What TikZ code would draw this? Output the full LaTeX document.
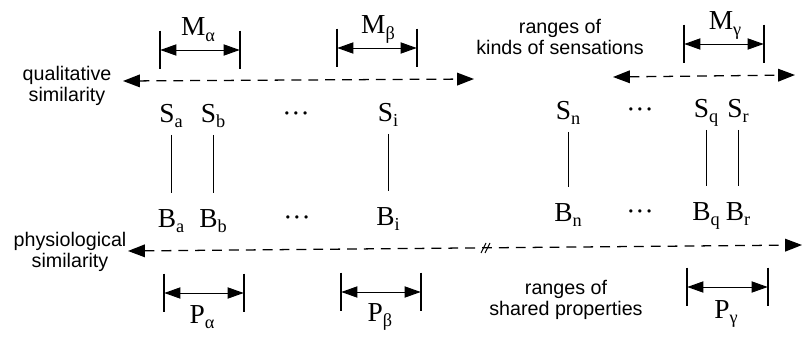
\documentclass[tikz,border=0pt]{standalone}
\usepackage{fontspec}
\setmainfont{Liberation Serif}
\newfontfamily\notefont{Liberation Sans}
\usetikzlibrary{arrows.meta}
\newcommand{\lsub}[1]{\raisebox{-0.45ex}{\fontsize{13}{14}\selectfont #1}}

\begin{document}
\begin{tikzpicture}[x=0.025cm, y=-0.025cm,
    sym/.style={inner sep=0pt, anchor=base, text depth=0pt, text height=13pt, font=\fontsize{19.5}{21}\selectfont},
    note/.style={align=center, font=\notefont\fontsize{14}{14.5}\selectfont},
    bar/.style={inner sep=0pt, minimum width=0pt, minimum height=27pt},
    barline/.style={line width=1.1pt},
    span/.style={{Triangle[length=11.5pt, width=8pt]}-{Triangle[length=11.5pt, width=8pt]}, line width=0.7pt},
    axis/.style={{Triangle[length=12pt, width=9pt]}-{Triangle[length=12pt, width=9pt]}, line width=0.9pt, dash pattern=on 7pt off 5pt},
    link/.style={line width=0.7pt, shorten <=9pt, shorten >=11pt}
  ]
  \useasboundingbox (0,0) rectangle (807,341);

  % sensations and brain states
  \node[sym] (Sa) at (171,122) {S\lsub{a}};
  \node[sym] (Sb) at (213,122) {S\lsub{b}};
  \node[sym] (Sd1) at (296,122) {···};
  \node[sym] (Si) at (388,121) {S\lsub{i}};
  \node[sym] (Sn) at (568,119) {S\lsub{n}};
  \node[sym] (Sd2) at (640,118) {···};
  \node[sym] (Sq) at (706,117) {S\lsub{q}};
  \node[sym] (Sr) at (738,117) {S\lsub{r}};

  \node[sym] (Ba) at (171,227) {B\lsub{a}};
  \node[sym] (Bb) at (213,227) {B\lsub{b}};
  \node[sym] (Bd1) at (297,226) {···};
  \node[sym] (Bi) at (388,225) {B\lsub{i}};
  \node[sym] (Bn) at (568,221) {B\lsub{n}};
  \node[sym] (Bd2) at (640,220) {···};
  \node[sym] (Bq) at (706,220) {B\lsub{q}};
  \node[sym] (Br) at (738,220) {B\lsub{r}};

  \draw[link] (Sa.south) -- (Ba.north);
  \draw[link] (Sb.south) -- (Bb.north);
  \draw[link] (Si.south) -- (Bi.north);
  \draw[link] (Sn.south) -- (Bn.north);
  \draw[link] (Sq.south) -- (Bq.north);
  \draw[link] (Sr.south) -- (Br.north);

  % similarity axes
  \node[note] (qual) at (67,86) {qualitative\\similarity};
  \node[note] (phys) at (70,252) {physiological\\similarity};
  \coordinate (q1l) at (123,81);
  \coordinate (q1r) at (474,79);
  \coordinate (q2l) at (613,77);
  \coordinate (q2r) at (795,75);
  \coordinate (pl) at (128,251);
  \coordinate (pr) at (802,245);
  \coordinate (brk) at (486,248);
  \draw[axis] (q1l) -- (q1r);
  \draw[axis] (q2l) -- (q2r);
  \draw[axis] (pl) -- (pr);
  \draw[line width=0.7pt] ([shift={(-5,5)}]brk) -- ([shift={(0,-5)}]brk);
  \draw[line width=0.7pt] ([shift={(-1,5)}]brk) -- ([shift={(4,-5)}]brk);

  % ranges of kinds of sensations
  \node[note] (kinds) at (560,37) {ranges of\\kinds of sensations};
  \node[sym] (Ma) at (198,36) {M\lsub{α}};
  \node[bar] (Mal) at (160,50) {};
  \node[bar] (Mar) at (240,50) {};
  \draw[barline] (Mal.north) -- (Mal.south);
  \draw[barline] (Mar.north) -- (Mar.south);
  \draw[span] (Mal) -- (Mar);

  \node[sym] (Mb) at (378,34) {M\lsub{β}};
  \node[bar] (Mbl) at (337,48) {};
  \node[bar] (Mbr) at (417,48) {};
  \draw[barline] (Mbl.north) -- (Mbl.south);
  \draw[barline] (Mbr.north) -- (Mbr.south);
  \draw[span] (Mbl) -- (Mbr);

  \node[sym] (Mg) at (725,30) {M\lsub{γ}};
  \node[bar] (Mgl) at (684,44) {};
  \node[bar] (Mgr) at (764,44) {};
  \draw[barline] (Mgl.north) -- (Mgl.south);
  \draw[barline] (Mgr.north) -- (Mgr.south);
  \draw[span] (Mgl) -- (Mgr);

  % ranges of shared properties
  \node[note] (shared) at (566,300) {ranges of\\shared properties};
  \node[sym] (Pa) at (202,323) {P\lsub{α}};
  \node[bar] (Pal) at (164,293) {};
  \node[bar] (Par) at (244,293) {};
  \draw[barline] (Pal.north) -- (Pal.south);
  \draw[barline] (Par.north) -- (Par.south);
  \draw[span] (Pal) -- (Par);

  \node[sym] (Pb) at (380,321) {P\lsub{β}};
  \node[bar] (Pbl) at (341,292) {};
  \node[bar] (Pbr) at (421,292) {};
  \draw[barline] (Pbl.north) -- (Pbl.south);
  \draw[barline] (Pbr.north) -- (Pbr.south);
  \draw[span] (Pbl) -- (Pbr);

  \node[sym] (Pg) at (726,318) {P\lsub{γ}};
  \node[bar] (Pgl) at (687,287) {};
  \node[bar] (Pgr) at (768,287) {};
  \draw[barline] (Pgl.north) -- (Pgl.south);
  \draw[barline] (Pgr.north) -- (Pgr.south);
  \draw[span] (Pgl) -- (Pgr);
\end{tikzpicture}
\end{document}
